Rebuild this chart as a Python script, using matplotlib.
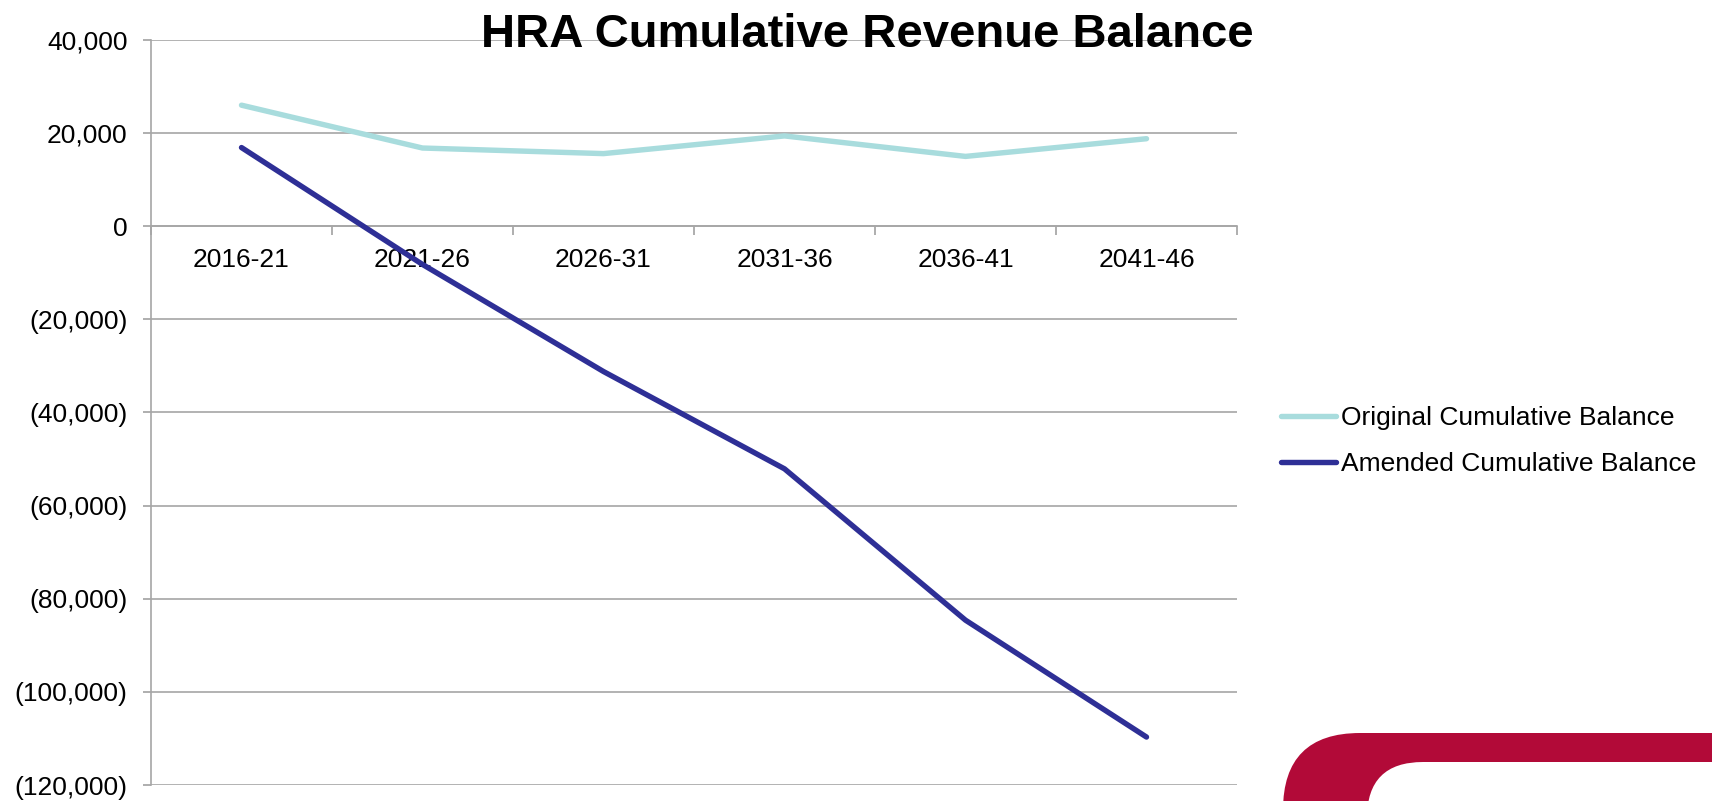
import matplotlib
matplotlib.use("Agg")
import matplotlib.pyplot as plt
from matplotlib.patches import FancyBboxPatch
from matplotlib.ticker import FuncFormatter, MultipleLocator

# data
periods = ["2016-21", "2021-26", "2026-31", "2031-36", "2036-41", "2041-46"]
original_balance = [26000, 16800, 15600, 19400, 15000, 18800]
amended_balance = [16900, -8200, -31200, -52100, -84600, -109700]
labels = ["Original Cumulative Balance", "Amended Cumulative Balance"]

plt.rcParams['font.family'] = ['Liberation Sans', 'DejaVu Sans']

W, H = 1712, 801
fig = plt.figure(figsize=(W / 100, H / 100), dpi=100)

# axes box in pixels: left 151, right 1237, top 40, bottom 785
ax = fig.add_axes([151 / W, (H - 785) / H, (1237 - 151) / W, (785 - 40) / H])

x = list(range(1, len(periods) + 1))
ax.plot(x, original_balance, color='#A8DCDD', linewidth=3.9, label=labels[0],
        solid_capstyle='round', zorder=3)
ax.plot(x, amended_balance, color='#2E2F96', linewidth=3.9, label=labels[1],
        solid_capstyle='round', zorder=3)

ax.set_xlim(0.5, len(periods) + 0.5)
ax.set_ylim(-120000, 40000)
ax.yaxis.set_major_locator(MultipleLocator(20000))


def money(v, pos):
    if v < 0:
        return f"({abs(v):,.0f})"
    return f"{v:,.0f}"


ax.yaxis.set_major_formatter(FuncFormatter(money))

# category labels in the middle, tick marks between categories
ax.set_xticks(x)
ax.set_xticklabels(periods)
ax.set_xticks([i + 0.5 for i in range(len(periods) + 1)], minor=True)
ax.tick_params(axis='x', which='major', length=0, pad=16, labelsize=19)
ax.tick_params(axis='x', which='minor', length=6.5, width=1.1, color='#999999',
               direction='out')
ax.tick_params(axis='y', length=6, width=1.1, color='#999999', pad=11, labelsize=19)

ax.grid(axis='y', color='#a6a6a6', linewidth=1.2, zorder=1)
ax.set_axisbelow(True)
for side in ['top', 'right']:
    ax.spines[side].set_visible(False)
ax.spines['left'].set_color('#a6a6a6')
ax.spines['left'].set_linewidth(1.2)
ax.spines['bottom'].set_position(('data', 0))
ax.spines['bottom'].set_color('#a6a6a6')
ax.spines['bottom'].set_linewidth(1.2)

fig.text(867 / W, (H - 47) / H, "HRA Cumulative Revenue Balance", ha='center',
         va='baseline', fontsize=34, fontweight='bold')

fig.legend(loc='center left', bbox_to_anchor=(1270 / W, (H - 441) / H),
           frameon=False, fontsize=19, handlelength=2.1, handletextpad=0.2,
           labelspacing=0.85, borderaxespad=0)

# corner of the logo at the bottom right
deco = fig.add_axes([0, 0, 1, 1], zorder=-1)
deco.set_xlim(0, W)
deco.set_ylim(H, 0)
deco.axis('off')
deco.add_patch(FancyBboxPatch((1283, 733), 900, 300,
                              boxstyle="round,pad=0,rounding_size=77",
                              facecolor='#B20A38', edgecolor='none'))
deco.add_patch(FancyBboxPatch((1367, 762), 900, 300,
                              boxstyle="round,pad=0,rounding_size=56",
                              facecolor='white', edgecolor='none'))

fig.savefig("out.png", dpi=100)
